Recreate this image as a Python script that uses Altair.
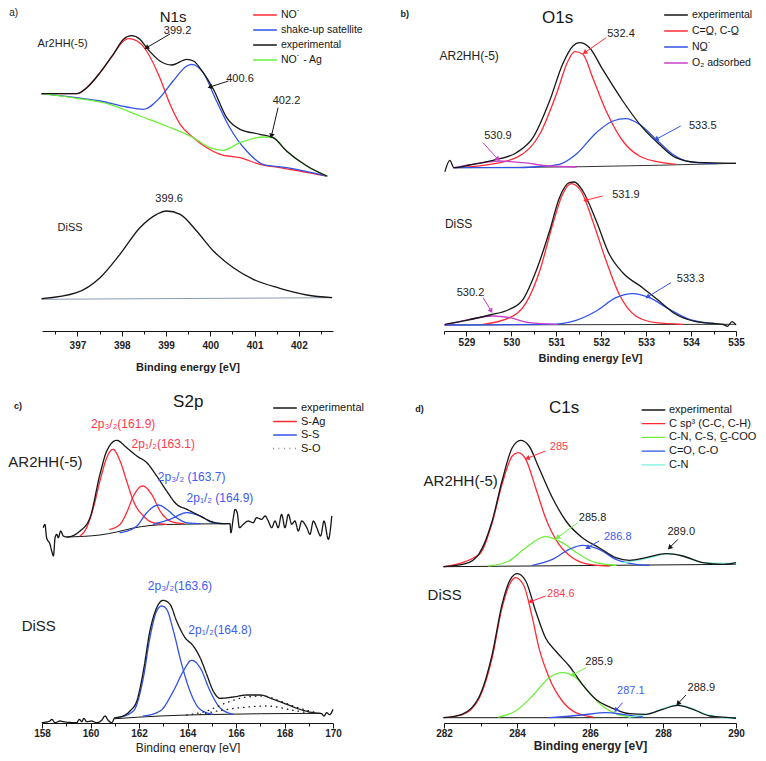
import math
import altair as alt
import pandas as pd

FONT = "Liberation Sans"
BLACK = "#161616"
RED = "#ff2a36"
BLUE = "#3152e6"
GREEN = "#6cef3a"
MAGENTA = "#c93fc9"
TEAL = "#7cf2df"
GREYBL = "#8a9bb0"
RED_T = "#ff3a4c"
BLUE_T = "#3d5cf0"
TXT = "#222222"

# ---------------- data: (binding energy [eV], intensity [a.u.]) ----------------
# a) N1s
A_TOP_EXP = ([396.19, 396.98, 397.21, 397.51, 397.81, 398.04, 398.22, 398.41, 398.56, 398.86, 399.13, 399.47, 399.62, 399.84, 400.07, 400.37, 400.67, 401.12, 401.42, 401.72, 402.18, 402.63],
             [237.3, 237.3, 243.3, 258.3, 276.7, 291.7, 295.3, 291.7, 283.3, 270, 266, 271.7, 270, 258.3, 241.7, 213.3, 201.7, 196.7, 193.3, 180, 165, 155])
A_TOP_NO = ([396.19, 396.98, 397.21, 397.51, 397.81, 398.04, 398.15, 398.41, 398.56, 398.86, 399.09, 399.32, 399.62, 399.92, 400.22, 400.67, 401.12, 401.57, 402.02, 402.63],
            [237.3, 237.3, 243.3, 258.3, 276.7, 290, 292.3, 288, 280, 253.3, 226.7, 206.7, 193.3, 183.3, 176.7, 173.3, 166.7, 163.3, 160, 155])
A_TOP_SAT = ([396.19, 396.98, 397.51, 398.11, 398.49, 398.86, 399.16, 399.47, 399.58, 399.84, 400.14, 400.44, 400.82, 401.19, 401.72, 402.63],
             [237.3, 233.3, 230, 224, 221.7, 233.3, 250, 265, 266.7, 258.3, 230, 203.3, 180, 166.7, 163.3, 155])
A_TOP_AG = ([396.19, 396.98, 397.73, 398.41, 399.01, 399.62, 399.99, 400.29, 400.67, 401.2, 401.42, 401.72, 402.18, 402.63],
            [237.3, 232.7, 226.7, 215, 205, 193.3, 183.3, 180.7, 188.3, 194, 193.3, 180, 165, 155])
A_BOT_EXP = ([396.19, 396.98, 397.51, 397.96, 398.41, 398.79, 399.01, 399.32, 399.69, 400.07, 400.52, 400.97, 401.57, 402.18, 402.75],
             [32.3, 38.3, 53.3, 76.7, 103.3, 116.7, 120, 116.7, 100, 80, 63.3, 51.7, 42.7, 36, 33.3])
A_BOT_BASE = ([396.19, 402.75], [31.7, 33.3])

# b) O1s
B_TOP_EXP = ([528.52, 528.63, 528.72, 529.07, 529.59, 530.11, 530.48, 530.85, 531.14, 531.37, 531.52, 531.74, 532.03, 532.48, 532.92, 533.29, 533.66, 534.11, 535.0],
             [159.3, 170.7, 163.3, 166, 170.7, 178.3, 193.3, 230, 266.7, 285, 288.3, 283.3, 261.7, 230, 203.3, 186.7, 173.3, 168.7, 167.7])
B_TOP_BASE = ([528.72, 531.59, 535.0], [163.3, 164.3, 167.7])
B_TOP_CO = ([528.72, 529.37, 530.11, 530.63, 531.0, 531.26, 531.41, 531.59, 531.81, 532.11, 532.48, 532.85, 533.37, 533.66],
            [163.3, 165.7, 173.3, 196.7, 236.7, 270, 279.3, 276.7, 253.3, 220, 190, 175, 168.3, 166.7])
B_TOP_NO = ([528.72, 530.11, 530.55, 531.07, 531.44, 531.89, 532.26, 532.55, 532.85, 533.22, 533.59, 533.96, 534.56],
            [163.3, 163.3, 164.3, 166.7, 176.7, 198.3, 210, 212.3, 206.7, 191.7, 176.7, 169.3, 167.3])
B_TOP_O2 = ([528.72, 529.22, 529.74, 530.26, 530.85, 531.44],
            [163.3, 167.3, 170, 168.3, 165, 164])
B_BOT_EXP = ([528.52, 529.0, 529.52, 529.96, 530.26, 530.55, 530.85, 531.07, 531.29, 531.40, 531.59, 531.89, 532.18, 532.48, 532.92, 533.29, 533.66, 534.11, 534.55, 534.72, 534.81, 534.91, 535.0],
             [6.7, 10.7, 16, 21.7, 31.7, 60, 100, 133.3, 148.3, 149, 140, 110, 76.7, 58.3, 43.3, 30, 16.7, 9.3, 7.3, 6.5, 4.7, 9.3, 6])
B_BOT_BASE = ([528.52, 535.0], [6.0, 6.7])
B_BOT_CO = ([529.37, 529.96, 530.33, 530.63, 530.92, 531.14, 531.33, 531.55, 531.81, 532.11, 532.40, 532.77, 533.22, 533.81],
            [6.7, 13.3, 28.3, 60, 106.7, 136.7, 147.3, 140, 110, 70, 36.7, 15, 8.3, 6.7])
B_BOT_NO = ([528.52, 530.85, 531.44, 531.89, 532.33, 532.70, 533.07, 533.52, 533.96, 534.55],
            [6, 6.7, 10.7, 20, 33.3, 37.3, 33.3, 21.7, 11.7, 7.3])
B_BOT_O2 = ([528.52, 529.07, 529.59, 529.96, 530.40, 531.0],
            [6, 11.7, 15, 13.3, 8.3, 6.7])

# c) S2p
C_TOP_EXP = ([158.05, 158.12, 158.19, 158.33, 158.40, 158.47, 158.54, 158.61, 158.67, 158.77,
              158.88, 159.02, 159.57, 159.98, 160.39, 160.67, 161.08, 161.49, 161.91, 162.32,
              162.73, 163.14, 163.55, 163.97, 164.52, 164.93, 165.48, 165.75, 165.79, 165.89,
              165.96, 166.05, 166.14, 166.30, 166.51, 166.71, 166.85, 167.06, 167.20, 167.33,
              167.47, 167.61, 167.74, 167.88, 168.02, 168.16, 168.30, 168.43, 168.57, 168.71,
              168.92, 169.05, 169.19, 169.33, 169.49, 169.63, 169.81, 169.95],
             [195.3, 198.7, 185.3, 178.7, 172, 167, 185.3, 188.7, 185.3, 192,
              187, 186, 192, 205.3, 248.7, 272, 282.7, 275.3, 267, 260.3,
              247, 232, 218.7, 213.7, 207, 202, 199.3, 199.3, 190.3, 205.3,
              213.7, 210.3, 195.3, 198.7, 202, 200.3, 205.3, 203.7, 207, 202,
              195.3, 202, 195.3, 208.7, 195.3, 208.7, 198.7, 202, 192, 202,
              195.3, 188.7, 202, 195.3, 187, 202, 183.7, 207])
C_TOP_BASE = ([159.02, 160.39, 161.08, 161.77, 163.14, 165.75], [186, 188, 191, 195, 198.5, 199.3])
C_TOP_AG32 = ([159.57, 159.84, 160.12, 160.39, 160.67, 160.92, 161.22, 161.49, 161.77, 162.18, 162.59, 163.14],
              [187, 195.3, 215.3, 242, 265.3, 273.7, 262, 242, 222, 207, 200.3, 198.7])
C_TOP_AG12 = ([160.80, 161.22, 161.49, 161.77, 162.15, 162.52, 162.87, 163.28, 163.83],
              [193.7, 198.7, 210.3, 227, 237, 228.7, 212, 202, 199.3])
C_TOP_SS32 = ([161.22, 161.91, 162.32, 162.80, 163.14, 163.55, 163.97, 164.52],
              [190.3, 197, 210.3, 218, 213.7, 205.3, 200.3, 199.3])
C_TOP_SS12 = ([162.59, 163.28, 163.97, 164.52, 165.06, 165.61],
              [198.7, 203.7, 210.3, 207, 200.3, 199.3])
C_BOT_EXP = ([157.99, 158.33, 158.40, 158.54, 158.74, 158.88, 159.43, 159.54, 159.64, 159.73,
              159.84, 160.05, 160.25, 160.46, 160.60, 160.73, 160.87, 161.01, 161.22, 161.63,
              161.91, 162.18, 162.45, 162.73, 163.00, 163.28, 163.55, 163.90, 164.24, 164.52,
              164.79, 165.06, 165.34, 165.89, 166.44, 166.99, 167.54, 168.09, 168.64, 169.19,
              169.53, 169.63, 169.74, 169.86, 170.0],
             [0.3, 2, 3.7, 0.3, 2, 1.3, 0.3, 3.7, 1.3, 4.7,
              1.3, 2, 0.3, 2.7, 7, 2.7, 0.3, 5.3, 6, 12,
              22, 52, 92, 115.3, 122.7, 118.7, 102, 85.3, 77, 65.3,
              48.7, 32, 24.7, 26, 28, 28, 23.7, 18.7, 13.7, 10.3,
              9.3, 7, 10.3, 8.3, 13.7])
C_BOT_BASE = ([161.01, 162.87, 164.52, 169.5], [4.3, 7, 8.3, 9.7])
C_BOT_SS32 = ([161.22, 161.77, 162.18, 162.45, 162.73, 162.94, 163.14, 163.42, 163.76, 164.10, 164.52, 165.06],
              [6, 12, 45.3, 85.3, 112, 117, 113.7, 92, 58.7, 32, 13.7, 8.7])
C_BOT_SS12 = ([162.18, 162.87, 163.42, 163.83, 164.17, 164.52, 164.93, 165.34, 165.89],
              [7, 12, 32, 52, 62.7, 55.3, 32, 15.3, 8.7])
C_BOT_SO1 = ([163.97, 164.79, 165.61, 166.44, 167.13, 167.81, 168.64, 169.33],
             [8, 12, 20.3, 26, 27, 22, 14.7, 10.3])
C_BOT_SO2 = ([164.52, 166.16, 167.27, 168.36, 169.19],
             [8.7, 15.3, 17, 12.7, 9.3])

# d) C1s
D_TOP_EXP = ([281.99, 282.59, 282.95, 283.32, 283.59, 283.87, 284.10, 284.33, 284.60, 284.97, 285.34, 285.79, 286.25, 286.71, 287.08, 287.53, 288.08, 288.54, 289.09, 289.64, 290.0],
             [156.3, 159.3, 168.7, 202, 242, 275.3, 282.7, 277, 255.3, 225.3, 202, 185.3, 175.3, 165.3, 162.7, 165.3, 169.3, 167, 160.3, 158.7, 160.3])
D_TOP_BASE = ([281.99, 290.0], [156.3, 158.7])
D_TOP_SP3 = ([281.99, 282.95, 283.32, 283.59, 283.87, 284.03, 284.24, 284.51, 284.78, 285.15, 285.52, 285.98, 286.53],
             [156.3, 168, 200.3, 238.7, 267, 270.3, 263.7, 235.3, 205.3, 178.7, 165.3, 158.7, 157])
D_TOP_CN = ([283.23, 283.78, 284.24, 284.78, 285.24, 285.70, 286.16, 286.71],
            [157, 162, 175.3, 186.3, 180.3, 168.7, 160.3, 157.7])
D_TOP_CO = ([284.42, 284.97, 285.43, 285.79, 286.25, 286.71, 287.26, 287.62],
            [157.7, 163.7, 173.7, 177.7, 173.7, 163.7, 158.7, 157.7])
D_TOP_CN2 = ([286.89, 287.44, 287.81, 288.13, 288.54, 289.09, 290.0],
             [160.3, 163.7, 167, 169.3, 167, 160.3, 159.3])
D_BOT_EXP = ([281.99, 282.49, 282.95, 283.32, 283.59, 283.82, 284.01, 284.24, 284.51, 284.78, 285.06, 285.43, 285.79, 286.16, 286.62, 287.08, 287.53, 287.99, 288.41, 288.82, 289.28, 289.83, 290.0],
             [5.3, 8.7, 25.3, 68.7, 118.7, 143.7, 149.3, 142, 112, 85.3, 72, 57, 38.7, 23.7, 14.7, 9.3, 8.7, 13.7, 17.7, 13.7, 7, 5.3, 4.7])
D_BOT_BASE = ([281.99, 290.0], [5.3, 5.3])
D_BOT_SP3 = ([281.99, 282.49, 282.95, 283.32, 283.59, 283.82, 283.96, 284.19, 284.42, 284.60, 284.88, 285.24, 285.61, 286.07],
             [5.3, 8, 23.7, 65.3, 115.3, 140.3, 145.3, 137, 105.3, 75.3, 45.3, 22, 10.3, 6])
D_BOT_CN = ([283.50, 283.96, 284.42, 284.88, 285.24, 285.61, 285.98, 286.34, 286.71, 287.08],
            [6, 12, 27, 45.3, 50.3, 45.3, 30.3, 17, 9.3, 6])
D_BOT_CO = ([284.88, 285.79, 286.43, 286.89, 287.44],
            [5.3, 8, 10.3, 8.7, 6])
D_BOT_CN2 = ([287.08, 287.63, 288.08, 288.41, 288.73, 289.19, 289.64, 290.0],
             [6, 9.3, 15.3, 18, 15.3, 8.7, 5.3, 4.7])

# series names (legend entries)
A_SERIES = ["NO˙", "shake-up satellite", "experimental", "NO˙ - Ag"]
B_SERIES = ["experimental", "C=O\u0332, C-O\u0332", "NO\u0332˙", "O₂ adsorbed"]
C_SERIES = ["experimental", "S-Ag", "S-S", "S-O"]
D_SERIES = ["experimental", "C sp³ (C-C, C-H)", "C-N, C-S, C\u0332-COO", "C=O, C-O", "C-N"]

# annotations: (energy, intensity, text, colour, font size, align, weight)
A_TEXT = [(395.46, 318, "a)", TXT, 10, "left", "normal"),
          (399.16, 314.5, "N1s", BLACK, 15, "center", "normal"),
          (396.10, 286.7, "Ar2HH(-5)", TXT, 11, "left", "normal"),
          (399.26, 300, "399.2", TXT, 11, "center", "normal"),
          (400.67, 251.7, "400.6", TXT, 11, "center", "normal"),
          (401.72, 230, "402.2", TXT, 11, "center", "normal"),
          (399.07, 131.7, "399.6", TXT, 11, "center", "normal"),
          (396.55, 102.7, "DiSS", TXT, 11, "left", "normal")]
A_ARROWS = [(399.09, 297, 398.56, 283.3, BLACK),
            (400.41, 250, 399.99, 244, BLACK),
            (401.53, 223.3, 401.38, 195, BLACK)]

B_TEXT = [(527.53, 317, "b)", TXT, 9, "left", "bold"),
          (531.03, 313, "O1s", BLACK, 17, "center", "normal"),
          (528.40, 275, "AR2HH(-5)", TXT, 12, "left", "normal"),
          (532.44, 296.7, "532.4", TXT, 11, "center", "normal"),
          (534.26, 205, "533.5", TXT, 11, "center", "normal"),
          (529.70, 195, "530.9", TXT, 11, "center", "normal"),
          (532.55, 136, "531.9", TXT, 11, "center", "normal"),
          (533.99, 51.7, "533.3", TXT, 11, "center", "normal"),
          (529.09, 38.3, "530.2", TXT, 11, "center", "normal"),
          (528.52, 106.7, "DiSS", TXT, 12, "left", "normal")]
B_ARROWS = [(532.11, 293.3, 531.63, 278.3, RED),
            (533.77, 205, 533.22, 191.7, BLUE),
            (529.37, 188.3, 529.70, 171.7, MAGENTA),
            (532.03, 135, 531.65, 130.7, RED),
            (533.55, 48.3, 533.03, 34, BLUE),
            (529.37, 33.3, 529.55, 20, MAGENTA)]

C_TEXT = [(156.85, 317, "c)", TXT, 9, "left", "bold"),
          (164.03, 321, "S2p", BLACK, 17, "center", "normal"),
          (156.61, 261, "AR2HH(-5)", TXT, 15, "left", "normal"),
          (161.35, 299.5, "2p₃/₂(161.9)", RED_T, 12, "center", "normal"),
          (163.00, 279.5, "2p₁/₂(163.1)", RED_T, 12, "center", "normal"),
          (164.17, 246, "2p₃/₂ (163.7)", BLUE_T, 12, "center", "normal"),
          (165.34, 225.5, "2p₁/₂ (164.9)", BLUE_T, 12, "center", "normal"),
          (163.69, 137, "2p₃/₂(163.6)", BLUE_T, 12, "center", "normal"),
          (165.34, 93, "2p₁/₂(164.8)", BLUE_T, 12, "center", "normal"),
          (157.16, 97, "DiSS", TXT, 15, "left", "normal")]
C_ARROWS = []

D_TEXT = [(281.21, 314, "d)", TXT, 9, "left", "bold"),
          (285.29, 315, "C1s", BLACK, 17, "center", "normal"),
          (281.44, 242, "AR2HH(-5)", TXT, 15, "left", "normal"),
          (285.15, 276, "285", RED_T, 11, "center", "normal"),
          (286.07, 204.7, "285.8", TXT, 11, "center", "normal"),
          (286.76, 186, "286.8", BLUE_T, 11, "center", "normal"),
          (288.50, 191.3, "289.0", TXT, 11, "center", "normal"),
          (285.20, 128.7, "284.6", RED_T, 11, "center", "normal"),
          (286.25, 61.3, "285.9", TXT, 11, "center", "normal"),
          (287.12, 32, "287.1", BLUE_T, 11, "center", "normal"),
          (289.05, 35.3, "288.9", TXT, 11, "center", "normal"),
          (281.55, 128, "DiSS", TXT, 15, "left", "normal")]
D_ARROWS = [(284.78, 272, 284.28, 264.7, RED),
            (285.66, 200.3, 285.11, 185.3, GREEN),
            (286.25, 182, 285.93, 175.3, BLUE),
            (288.41, 183.7, 288.18, 175.3, BLACK),
            (284.78, 127, 284.37, 121.3, RED),
            (285.89, 55.3, 285.52, 48, GREEN),
            (286.89, 20.3, 286.71, 12.7, BLUE),
            (288.63, 28, 288.41, 19.3, BLACK)]


def curves(specs):
    frames = []
    for grp, series, (e, i) in specs:
        frames.append(pd.DataFrame({"E": e, "I": i, "series": series, "grp": grp}))
    return pd.concat(frames, ignore_index=True)


def arrows_df(arrows, px_per_e):
    rows = []
    for e1, i1, e2, i2, col in arrows:
        dx = (e2 - e1) * px_per_e
        dy = (i2 - i1)
        ang = math.degrees(math.atan2(dx, dy)) % 360
        rows.append({"E1": e1, "I1": i1, "E2": e2, "I2": i2, "c": col, "ang": ang})
    return pd.DataFrame(rows, columns=["E1", "I1", "E2", "I2", "c", "ang"])


def panel(xdom, w, h, ticks, label_step, title_weight, title_size, label_pad, title_pad,
          series, colors, legend_xy, row_pad, label_size, comps, exps, bases, base_color,
          texts, arrows, dashes=None, widths=None):
    xs = alt.Scale(domain=xdom, nice=False, zero=False)
    ys = alt.Scale(domain=[0, h], nice=False, zero=False)
    xaxis = alt.Axis(
        values=ticks,
        labelExpr=f"datum.value % {label_step} == 0 ? datum.label : ''",
        format=".0f",
        tickSize={"condition": {"test": f"datum.value % {label_step} != 0", "value": 3}, "value": 5},
        title="Binding energy [eV]", titleFont=FONT, titleFontSize=title_size,
        titleFontWeight=title_weight, titlePadding=title_pad, titleColor=TXT,
        labelFont=FONT, labelFontSize=10, labelFontWeight="bold", labelColor=TXT,
        labelPadding=label_pad, labelOverlap=False, labelFlush=False,
        domainColor=BLACK, tickColor=BLACK, domainWidth=1, tickWidth=1, grid=False)

    def X(f):
        return alt.X(f"{f}:Q", scale=xs, axis=xaxis)

    def Y(f):
        return alt.Y(f"{f}:Q", scale=ys, axis=None)

    legend = alt.Legend(orient="none", legendX=legend_xy[0], legendY=legend_xy[1], title=None,
                        symbolType="stroke", symbolSize=560, clipHeight=12, symbolStrokeWidth=1.5,
                        labelFont=FONT, labelFontSize=label_size, labelColor=BLACK, labelOffset=3,
                        rowPadding=row_pad, padding=0, labelLimit=400)
    enc_extra = {}
    if dashes is not None:
        enc_extra["strokeDash"] = alt.StrokeDash("series:N", scale=alt.Scale(domain=series, range=dashes), legend=legend)
    if widths is not None:
        enc_extra["strokeWidth"] = alt.StrokeWidth("series:N", scale=alt.Scale(domain=series, range=widths), legend=None)
    color = alt.Color("series:N", scale=alt.Scale(domain=series, range=colors), legend=legend)

    layers = []
    layers.append(alt.Chart(curves(bases)).mark_line(strokeWidth=1, color=base_color, interpolate="monotone")
                  .encode(x=X("E"), y=Y("I"), detail="grp:N"))
    layers.append(alt.Chart(curves(comps)).mark_line(strokeWidth=1.3, interpolate="monotone", strokeCap="round")
                  .encode(x=X("E"), y=Y("I"), color=color, detail="grp:N", **enc_extra))
    layers.append(alt.Chart(curves(exps)).mark_line(strokeWidth=1.3, interpolate="monotone")
                  .encode(x=X("E"), y=Y("I"), color=color, detail="grp:N", **enc_extra))
    if arrows:
        adf = arrows_df(arrows, w / (xdom[1] - xdom[0]))
        layers.append(alt.Chart(adf).mark_rule(strokeWidth=1)
                      .encode(x=X("E1"), y=Y("I1"), x2="E2:Q", y2="I2:Q", stroke=alt.Stroke("c:N", scale=None)))
        layers.append(alt.Chart(adf).mark_point(shape="triangle-up", filled=True, size=30, opacity=1, strokeWidth=0)
                      .encode(x=X("E2"), y=Y("I2"), angle=alt.Angle("ang:Q", scale=None),
                              fill=alt.Fill("c:N", scale=None)))
    tdf = pd.DataFrame(texts, columns=["E", "I", "t", "c", "fs", "al", "fw"])
    for (al, fw), sub in tdf.groupby(["al", "fw"]):
        layers.append(alt.Chart(sub).mark_text(font=FONT, align=al, fontWeight=fw, baseline="middle")
                      .encode(x=X("E"), y=Y("I"), text="t:N", fill=alt.Fill("c:N", scale=None),
                              size=alt.Size("fs:Q", scale=None)))
    return alt.layer(*layers).properties(width=w, height=h)


pa = panel([396.2, 402.77], 291, 322, [396.5 + 0.5 * k for k in range(13)], 1, "bold", 11, 4, 11,
           A_SERIES, [RED, BLUE, BLACK, GREEN], (210, 0), 3, 10.5,
           comps=[("t_no", A_SERIES[0], A_TOP_NO), ("t_sat", A_SERIES[1], A_TOP_SAT), ("t_ag", A_SERIES[3], A_TOP_AG)],
           exps=[("t_exp", A_SERIES[2], A_TOP_EXP), ("b_exp", A_SERIES[2], A_BOT_EXP)],
           bases=[("b_base", "base", A_BOT_BASE)], base_color=GREYBL,
           texts=A_TEXT, arrows=A_ARROWS)

pb = panel([528.5, 535.0], 292, 322, [528.5 + 0.5 * k for k in range(14)], 1, "bold", 11, 1, 5,
           B_SERIES, [BLACK, RED, BLUE, MAGENTA], (219, 0), 4, 10.5,
           comps=[("t_co", B_SERIES[1], B_TOP_CO), ("t_no", B_SERIES[2], B_TOP_NO), ("t_o2", B_SERIES[3], B_TOP_O2),
                  ("b_co", B_SERIES[1], B_BOT_CO), ("b_no", B_SERIES[2], B_BOT_NO), ("b_o2", B_SERIES[3], B_BOT_O2)],
           exps=[("t_exp", B_SERIES[0], B_TOP_EXP), ("b_exp", B_SERIES[0], B_BOT_EXP)],
           bases=[("t_base", "base", B_TOP_BASE), ("b_base", "base", B_BOT_BASE)], base_color="#333333",
           texts=B_TEXT, arrows=B_ARROWS)

pc = panel([158.0, 170.0], 291, 332, [158 + k for k in range(13)], 2, "normal", 12, 0, 4,
           C_SERIES, [BLACK, RED, BLUE, BLACK], (230, 11), 1.5, 11,
           comps=[("t_ag32", C_SERIES[1], C_TOP_AG32), ("t_ag12", C_SERIES[1], C_TOP_AG12),
                  ("t_ss32", C_SERIES[2], C_TOP_SS32), ("t_ss12", C_SERIES[2], C_TOP_SS12),
                  ("b_ss32", C_SERIES[2], C_BOT_SS32), ("b_ss12", C_SERIES[2], C_BOT_SS12),
                  ("b_so1", C_SERIES[3], C_BOT_SO1), ("b_so2", C_SERIES[3], C_BOT_SO2)],
           exps=[("t_exp", C_SERIES[0], C_TOP_EXP), ("b_exp", C_SERIES[0], C_BOT_EXP)],
           bases=[("t_base", "base", C_TOP_BASE), ("b_base", "base", C_BOT_BASE)], base_color=BLACK,
           texts=C_TEXT, arrows=C_ARROWS,
           dashes=[[1, 0], [1, 0], [1, 0], [0.5, 5]])

pd_ = panel([282.0, 290.0], 292, 332, [282 + k for k in range(9)], 2, "bold", 12, 0, 2,
            D_SERIES, [BLACK, RED, GREEN, BLUE, TEAL], (197, 13), 1.7, 11,
            comps=[("t_sp3", D_SERIES[1], D_TOP_SP3), ("t_cn", D_SERIES[2], D_TOP_CN),
                   ("t_co", D_SERIES[3], D_TOP_CO), ("t_cn2", D_SERIES[4], D_TOP_CN2),
                   ("b_sp3", D_SERIES[1], D_BOT_SP3), ("b_cn", D_SERIES[2], D_BOT_CN),
                   ("b_co", D_SERIES[3], D_BOT_CO), ("b_cn2", D_SERIES[4], D_BOT_CN2)],
            exps=[("t_exp", D_SERIES[0], D_TOP_EXP), ("b_exp", D_SERIES[0], D_BOT_EXP)],
            bases=[("t_base", "base", D_TOP_BASE), ("b_base", "base", D_BOT_BASE)], base_color=BLACK,
            texts=D_TEXT, arrows=D_ARROWS,
            widths=[1.3, 1.3, 1.3, 1.3, 3.5])

chart = (alt.concat(pa, pb, pc, pd_, columns=2, spacing={"row": 60, "column": 111}, bounds="flush")
         .resolve_scale(color="independent", strokeDash="independent", strokeWidth="independent")
         .properties(padding=0)
         .configure_view(stroke=None))

chart.save("out.html", embed_options={"renderer": "svg", "actions": False})
